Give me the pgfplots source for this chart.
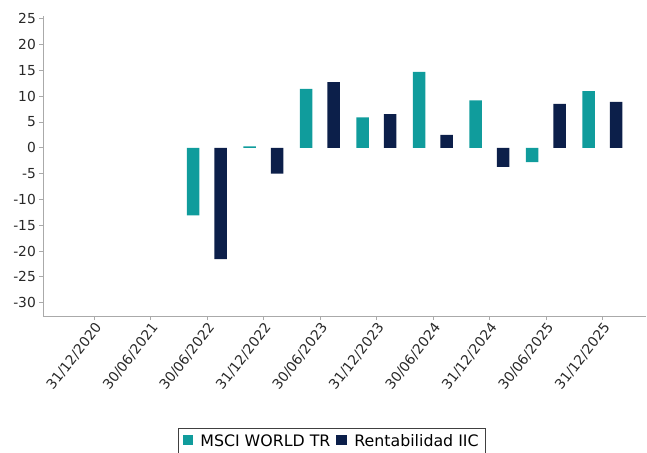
\documentclass[border=0pt]{standalone}
\usepackage{fontspec}
\setmainfont{DejaVu Sans}
\usepackage{pgfplots}
\pgfplotsset{compat=1.18}
\definecolor{msci}{RGB}{16,156,156}
\definecolor{iic}{RGB}{12,31,74}
\definecolor{axgray}{RGB}{170,170,170}
\definecolor{txt}{RGB}{40,40,40}
\begin{document}
\begin{tikzpicture}
\begin{axis}[
  name=ax,
  scale only axis,
  width=603.4pt, height=299.8pt,
  xmin=-0.9, xmax=9.78,
  ymin=-32.6, ymax=25.5,
  axis x line=bottom, axis y line=left,
  axis line style={-, draw=axgray, line width=0.8pt},
  tick style={draw=axgray, line width=0.6pt},
  major tick length=4pt,
  tick align=outside,
  ytick={-30,-25,-20,-15,-10,-5,0,5,10,15,20,25},
  yticklabels={-30,-25,-20,-15,-10,-5,0,5,10,15,20,25},
  xtick={0,1,2,3,4,5,6,7,8,9},
  xticklabels={31/12/2020,30/06/2021,30/06/2022,31/12/2022,30/06/2023,31/12/2023,30/06/2024,31/12/2024,30/06/2025,31/12/2025},
  ticklabel style={font=\fontsize{13.8}{15}\selectfont, text=txt},
  xticklabel style={rotate=52, anchor=north east, inner sep=1pt},
  yticklabel style={inner sep=3pt},
  ybar, bar width=0.221,
  legend style={
    at={(0.2237,-0.3736)}, anchor=north west,
    draw=black!75, line width=0.8pt,
    font=\fontsize{15.8}{17}\selectfont,
    legend columns=2,
    inner xsep=5pt, inner ysep=4pt,
    /tikz/every odd column/.append style={column sep=5pt},
    /tikz/every even column/.append style={column sep=4pt},
  },
  legend cell align=left,
]
\addplot[fill=msci, draw=none, bar shift=-0.243,
  legend image code/.code={\fill[msci] (0pt,-4pt) rectangle (10pt,6pt);}]
  coordinates {(2,-13.1) (3,0.25) (4,11.4) (5,5.9) (6,14.7) (7,9.2) (8,-2.8) (9,11.0)};
\addlegendentry{MSCI WORLD TR}
\addplot[fill=iic, draw=none, bar shift=0.243,
  legend image code/.code={\fill[iic] (0pt,-4pt) rectangle (11pt,6pt);}]
  coordinates {(2,-21.6) (3,-5.0) (4,12.7) (5,6.5) (6,2.5) (7,-3.7) (8,8.5) (9,8.9)};
\addlegendentry{Rentabilidad IIC}
\end{axis}
\pgfresetboundingbox
\path[use as bounding box] ([xshift=-43pt,yshift=-136pt]ax.south west) rectangle ++(647pt,452pt);
\end{tikzpicture}
\end{document}
